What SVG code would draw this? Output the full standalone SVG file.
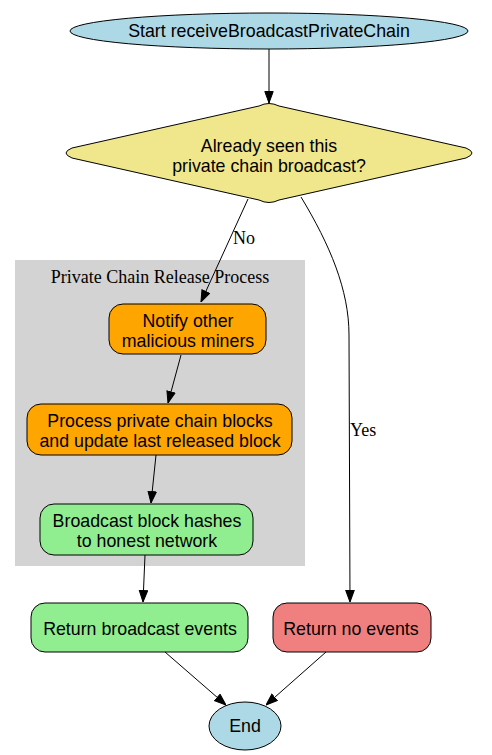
<svg xmlns="http://www.w3.org/2000/svg" width="492" height="755" viewBox="0 0 492 755">
<defs>
<marker id="arr" viewBox="0 0 12 10" refX="12" refY="5" markerWidth="12" markerHeight="10" markerUnits="userSpaceOnUse" orient="auto">
<path d="M0.5,0.8 L12,5 L0.5,9.2 z" fill="#000" stroke="#000" stroke-width="1"/>
</marker>
<style>
.n{stroke:#000;stroke-width:1}
.t{font-family:"Liberation Sans",Arial,sans-serif;font-size:17.8px;text-anchor:middle;fill:#000}
.l{font-family:"Liberation Serif","Times New Roman",serif;font-size:18px;fill:#000}
.e{fill:none;stroke:#000;stroke-width:1;marker-end:url(#arr)}
</style>
</defs>
<rect width="492" height="755" fill="#fff"/>
<g id="cluster">
<rect x="15" y="260" width="290" height="306" fill="#d3d3d3"/>
<text class="l" x="160" y="283" text-anchor="middle">Private Chain Release Process</text>
</g>
<g id="start">
<ellipse class="n" cx="269" cy="31" rx="199" ry="18" fill="#add8e6"/>
<text class="t" x="269" y="37">Start receiveBroadcastPrivateChain</text>
</g>
<g id="decision">
<path class="n" d="M259,106 Q269,101 279,106 L466,148 Q478,153 466,158 L279,200 Q269,205 259,200 L72,158 Q60,153 72,148 Z" fill="#f0e68c"/>
<text class="t" x="269" y="152">Already seen this</text>
<text class="t" x="269" y="172">private chain broadcast?</text>
</g>
<g id="notify">
<rect class="n" x="109" y="304" width="157" height="50" rx="14" fill="#ffa500"/>
<text class="t" x="188" y="327">Notify other</text>
<text class="t" x="188" y="347">malicious miners</text>
</g>
<g id="process">
<rect class="n" x="27" y="404" width="265" height="51" rx="14" fill="#ffa500"/>
<text class="t" x="160" y="427">Process private chain blocks</text>
<text class="t" x="160" y="447">and update last released block</text>
</g>
<g id="broadcast">
<rect class="n" x="40" y="504" width="213" height="51" rx="14" fill="#90ee90"/>
<text class="t" x="147" y="527">Broadcast block hashes</text>
<text class="t" x="147" y="547">to honest network</text>
</g>
<g id="returnBroadcast">
<rect class="n" x="31" y="603" width="217" height="49" rx="14" fill="#90ee90"/>
<text class="t" x="140" y="635">Return broadcast events</text>
</g>
<g id="returnNo">
<rect class="n" x="273" y="603" width="158" height="49" rx="14" fill="#f08080"/>
<text class="t" x="351" y="635">Return no events</text>
</g>
<g id="end">
<ellipse class="n" cx="245" cy="726" rx="36" ry="24" fill="#add8e6"/>
<text class="t" x="245" y="732">End</text>
</g>
<g id="edges">
<path class="e" d="M269,49 L269,103"/>
<path class="e" d="M248,199 L201,302"/>
<text class="l" x="233" y="244">No</text>
<path class="e" d="M301,197 C330,245 349,290 349,335 L350,602"/>
<text class="l" x="350" y="436">Yes</text>
<path class="e" d="M181,355 L168,403"/>
<path class="e" d="M156,455 L151,503"/>
<path class="e" d="M145,555 L143,602"/>
<path class="e" d="M165,652 L226,705"/>
<path class="e" d="M326,652 L266,705"/>
</g>
</svg>
